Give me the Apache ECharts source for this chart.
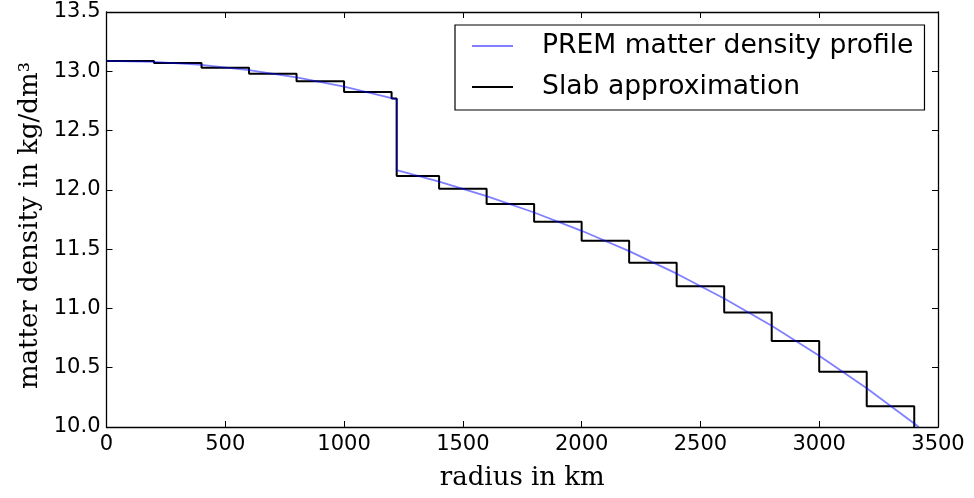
<!DOCTYPE html>
<html>
<head>
<meta charset="utf-8">
<script src="https://cdn.jsdelivr.net/npm/echarts@6/dist/echarts.min.js"></script>
<style>html,body{margin:0;padding:0;background:#fff;}#c{width:974px;height:498px;}</style>
</head>
<body>
<div id="c"></div>
<script>
// PREM matter density profile (radius km, density kg/dm^3)
const premRadius  = [0, 200, 400, 600, 800, 1000, 1221.5, 1221.5, 1400, 1600, 1800, 2000, 2200, 2400, 2600, 2800, 3000, 3200, 3400, 3419];
const premDensity = [13.0885, 13.0798, 13.0537, 13.0101, 12.9491, 12.8708, 12.7636, 12.1663, 12.0692, 11.9468, 11.8090, 11.6548, 11.4831, 11.2930, 11.0833, 10.8532, 10.6015, 10.3273, 10.0294, 10.0];
// Slab approximation: slab edges and constant density in each slab
const slabEdges  = [0, 200, 400, 600, 800, 1000, 1200, 1221.5, 1400, 1600, 1800, 2000, 2200, 2400, 2600, 2800, 3000, 3200, 3400];
const slabValues = [13.087, 13.07, 13.03, 12.98, 12.915, 12.825, 12.77, 12.117, 12.01, 11.88, 11.73, 11.57, 11.386, 11.187, 10.965, 10.726, 10.465, 10.175];
const slabEndValue = 10.0;
const xTicks = [0, 500, 1000, 1500, 2000, 2500, 3000, 3500];
const yTicks = [10.0, 10.5, 11.0, 11.5, 12.0, 12.5, 13.0, 13.5];

const premData = premRadius.map((r, i) => [r, premDensity[i]]);
const slabData = [];
for (let i = 0; i < slabValues.length; i++) {
  slabData.push([slabEdges[i], slabValues[i]]);
  slabData.push([slabEdges[i + 1], slabValues[i]]);
}
slabData.push([slabEdges[slabEdges.length - 1], slabEndValue]);

const chart = echarts.init(document.getElementById('c'), null, {renderer: 'canvas'});
const tickFont = {fontFamily: 'DejaVu Sans', fontSize: 21, color: '#000'};
const serif = {fontFamily: 'DejaVu Serif', fontSize: 26, color: '#000'};
const axisLine = {show: true, onZero: false, lineStyle: {color: '#000', width: 1.3}};
const tick = {show: true, inside: true, length: 6, lineStyle: {color: '#000', width: 1}};

chart.setOption({
  animation: false,
  backgroundColor: '#fff',
  grid: {left: 106.5, right: 36, top: 12, bottom: 71, containLabel: false},
  xAxis: [{
    type: 'value', min: xTicks[0], max: xTicks[xTicks.length - 1], interval: 500,
    axisLine: axisLine, axisTick: tick, splitLine: {show: false},
    axisLabel: Object.assign({margin: 7, formatter: v => String(v)}, tickFont),
    name: 'radius in km', nameLocation: 'middle', nameGap: 38, nameTextStyle: serif
  }, {
    type: 'value', position: 'top', min: xTicks[0], max: xTicks[xTicks.length - 1], interval: 500,
    axisLine: axisLine, axisTick: tick, splitLine: {show: false}, axisLabel: {show: false}
  }],
  yAxis: [{
    type: 'value', min: yTicks[0], max: yTicks[yTicks.length - 1], interval: 0.5,
    axisLine: axisLine, axisTick: tick, splitLine: {show: false},
    axisLabel: Object.assign({margin: 6, formatter: v => v.toFixed(1)}, tickFont),
    name: 'matter density in kg/dm³', nameLocation: 'middle', nameGap: 62,
    nameTextStyle: Object.assign({padding: [0, 12, 0, 0]}, serif)
  }, {
    type: 'value', position: 'right', min: yTicks[0], max: yTicks[yTicks.length - 1], interval: 0.5,
    axisLine: axisLine, axisTick: tick, splitLine: {show: false}, axisLabel: {show: false}
  }],
  legend: {
    orient: 'vertical', left: 455, top: 25,
    padding: [6, 11, 8, 17],
    icon: 'rect',
    itemWidth: 41, itemHeight: 2, itemGap: 11,
    backgroundColor: '#fff', borderColor: '#000', borderWidth: 1.2, borderRadius: 0,
    textStyle: {fontFamily: 'DejaVu Sans', fontSize: 26.6, color: '#000', lineHeight: 30, padding: [0, 0, 0, 24]},
    data: ['PREM matter density profile', 'Slab approximation']
  },
  series: [{
    name: 'Slab approximation', type: 'line', data: slabData, symbol: 'none', z: 2,
    lineStyle: {color: '#000', width: 2}, itemStyle: {color: '#000'}
  }, {
    name: 'PREM matter density profile', type: 'line', data: premData, symbol: 'none', z: 3,
    lineStyle: {color: 'rgba(0,0,255,0.5)', width: 1.8}, itemStyle: {color: 'rgba(0,0,255,0.5)'}
  }]
});
</script>
</body>
</html>
